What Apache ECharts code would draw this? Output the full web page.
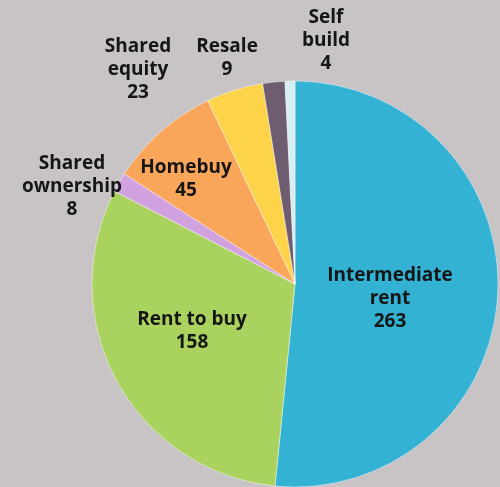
<!DOCTYPE html>
<html>
<head>
<meta charset="utf-8">
<script src="https://cdn.jsdelivr.net/npm/echarts@6/dist/echarts.min.js"></script>
<style>
  html, body { margin: 0; padding: 0; background: #c8c3c5; }
  #chart { width: 500px; height: 487px; }
</style>
</head>
<body>
<div id="chart"></div>
<script>
// tenure types, clockwise from 12 o'clock
const categories = ['Intermediate\nrent', 'Rent to buy', 'Shared\nownership', 'Homebuy', 'Shared\nequity', 'Resale', 'Self\nbuild']
const values = [263, 158, 8, 45, 23, 9, 4]
const colors = ['#33b2d4', '#a9d25e', '#d1a2df', '#f9a55a', '#fdd34a', '#6e5d70', '#d7edf4']

// where each label block sits (centre of the text)
const labelPos = [
  [390, 299], [192, 331], [72, 187], [186, 179], [138, 70], [227, 58], [326, 41]
]

const chart = echarts.init(document.getElementById('chart'))
chart.setOption({
  backgroundColor: '#c8c3c5',
  animation: false,
  series: [{
    type: 'pie',
    center: [295, 284],
    radius: 203,
    startAngle: 90,
    clockwise: true,
    data: categories.map((name, i) => ({
      name: name,
      value: values[i],
      itemStyle: { color: colors[i] }
    })),
    itemStyle: {
      borderColor: 'rgba(255,255,255,0.45)',
      borderWidth: 1
    },
    label: {
      show: true,
      position: 'inside',
      formatter: '{b}\n{c}',
      color: '#161616',
      fontFamily: 'Open Sans',
      fontWeight: 'bold',
      fontSize: 19,
      lineHeight: 23,
      align: 'center'
    },
    labelLine: { show: false },
    labelLayout: function (params) {
      const p = labelPos[params.dataIndex]
      return { x: p[0], y: p[1], align: 'center', verticalAlign: 'middle' }
    }
  }]
})
</script>
</body>
</html>
